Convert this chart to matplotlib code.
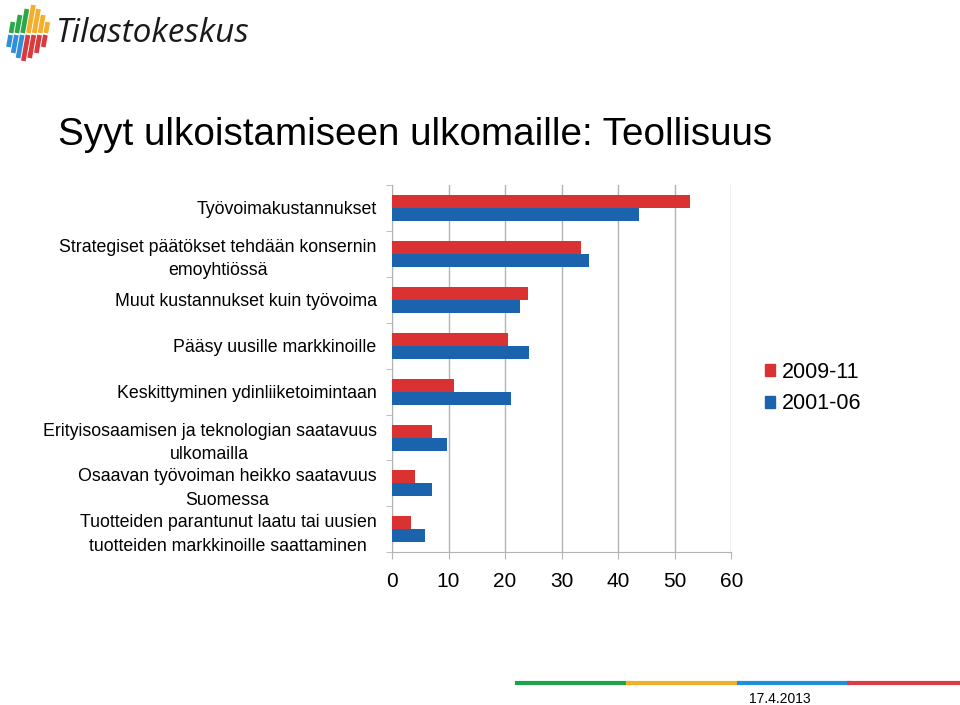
import matplotlib.pyplot as plt
import matplotlib.patches as mpatches
import numpy as np

plt.rcParams['font.family'] = ['Liberation Sans', 'DejaVu Sans']

# Syyt ulkoistamiseen, % yrityksistä
categories = [
    "Työvoimakustannukset",
    "Strategiset päätökset tehdään konsernin\nemoyhtiössä",
    "Muut kustannukset kuin työvoima",
    "Pääsy uusille markkinoille",
    "Keskittyminen ydinliiketoimintaan",
    "Erityisosaamisen ja teknologian saatavuus\nulkomailla",
    "Osaavan työvoiman heikko saatavuus\nSuomessa",
    "Tuotteiden parantunut laatu tai uusien\ntuotteiden markkinoille saattaminen",
]
v_2009_11 = [52.7, 33.4, 24.0, 20.6, 11.0, 7.0, 4.1, 3.4]
v_2001_06 = [43.7, 34.9, 22.7, 24.3, 21.0, 9.7, 7.1, 5.9]
series_names = ["2009-11", "2001-06"]
x_ticks = [0, 10, 20, 30, 40, 50, 60]

RED = '#DA3133'
BLUE = '#1C63AE'
GRID = '#B3B3B3'

fig = plt.figure(figsize=(9.6, 7.05), dpi=100)
ax = fig.add_axes([392 / 960, 1 - 552.3 / 705, (731.3 - 392) / 960, (552.3 - 185) / 705])

y = np.arange(len(categories))
h = 0.283
ax.barh(y - h / 2, v_2009_11, height=h, color=RED, label=series_names[0], zorder=3)
ax.barh(y + h / 2, v_2001_06, height=h, color=BLUE, label=series_names[1], zorder=3)

ax.set_xlim(0, 60)
ax.set_ylim(len(categories) - 0.5, -0.5)
ax.set_xticks(x_ticks)
ax.set_xticklabels([str(t) for t in x_ticks], fontsize=15)
ax.set_yticks(y)
ax.set_yticklabels(categories, fontsize=12.8, linespacing=1.5)
for lbl in ax.get_yticklabels():
    lbl.set_multialignment('center')
ax.set_yticks(np.arange(len(categories) + 1) - 0.5, minor=True)
ax.tick_params(axis='y', which='major', length=0, pad=11)
ax.tick_params(axis='y', which='minor', length=4, color=GRID, direction='out')
ax.tick_params(axis='x', length=5, color=GRID, pad=9)

ax.grid(axis='x', color=GRID, linewidth=1, zorder=0)
for s in ['top', 'right']:
    ax.spines[s].set_visible(False)
for s in ['left', 'bottom']:
    ax.spines[s].set_color(GRID)

handles = [mpatches.Patch(color=RED, label=series_names[0]),
           mpatches.Patch(color=BLUE, label=series_names[1])]
fig.legend(handles=handles, loc='upper left', bbox_to_anchor=(756 / 960, 1 - 353 / 705),
           frameon=False, fontsize=15.5, handlelength=0.5, handleheight=0.5,
           handletextpad=0.3, labelspacing=0.5, borderaxespad=0)

fig.text(58 / 960, 1 - 135 / 705, "Syyt ulkoistamiseen ulkomaille: Teollisuus",
         fontsize=27.8, va='center', ha='left')

# logo
lx = fig.add_axes([0, 1 - 65 / 705, 60 / 960, 65 / 705])
lx.set_xlim(0, 60)
lx.set_ylim(65, 0)
lx.axis('off')
tops = [22, 15, 9, 5, 9, 15, 22]
bots = [47, 53, 58, 61, 58, 53, 47]
for i in range(7):
    x0 = 7 + i * 5.8
    top_col = '#2AA84A' if i < 3 else '#F3AE2B'
    bot_col = '#2F8FDB' if i < 3 else '#D93A3E'
    lx.plot([x0 + 4, x0 + 4 + (33 - tops[i]) * 0.18], [33, tops[i]], color=top_col,
            linewidth=3.4, solid_capstyle='butt')
    lx.plot([x0 + 3.6, x0 + 3.6 - (bots[i] - 35) * 0.18], [35, bots[i]], color=bot_col,
            linewidth=3.4, solid_capstyle='butt')
fig.text(56 / 960, 1 - 34 / 705, "Tilastokeskus", fontsize=24, family='Open Sans',
         va='center', ha='left', color='#1a1a1a', style='italic')

# bottom colour bar
colors_bar = ['#1FA34A', '#F2AF2A', '#1E8FDA', '#DA3D47']
seg = (960 - 517) / 4
for i, c in enumerate(colors_bar):
    fig.add_artist(plt.Line2D([(517 + i * seg) / 960, (517 + (i + 1) * seg) / 960],
                              [1 - 683 / 705, 1 - 683 / 705], color=c, linewidth=3))
fig.text(780 / 960, 1 - 699 / 705, "17.4.2013", fontsize=10, ha='center', va='center')

fig.savefig('out.png', dpi=100)
